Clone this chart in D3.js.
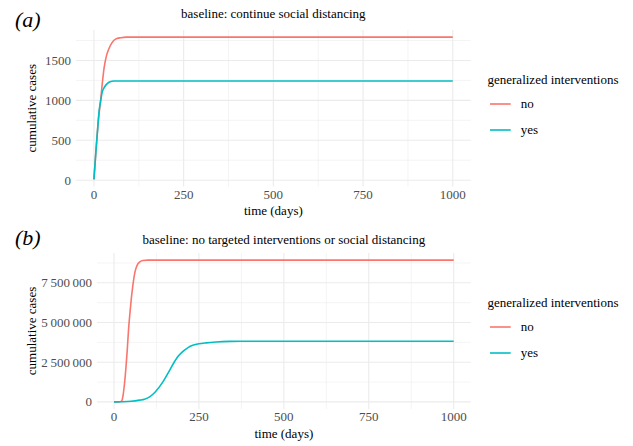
<!DOCTYPE html>
<html>
<head>
<meta charset="utf-8">
<script src="https://cdn.jsdelivr.net/npm/d3@7"></script>
<style>
  body { margin: 0; background: #fff; }
</style>
</head>
<body>
<svg id="chart" width="633" height="446" font-family="'Liberation Serif', 'Times New Roman', serif"></svg>
<script>
// panel (a): baseline continue social distancing
const daysA    = [0, 5, 11, 19, 23, 28, 35, 42, 50, 60, 75, 90, 1000];
const aNo      = [10, 330, 684, 1020, 1200, 1398, 1560, 1650, 1720, 1767, 1785, 1792, 1792];
const daysAYes = [0, 5, 10, 14, 19, 23, 30, 37, 45, 56, 70, 1000];
const aYes     = [10, 330, 620, 850, 1000, 1103, 1170, 1209, 1232, 1242, 1243, 1243];

// panel (b): baseline no targeted interventions or social distancing
const daysBNo  = [0, 15, 22, 27, 31, 35, 39, 43, 47, 51, 56, 62, 68, 75, 85, 100, 120, 1000];
const bNo      = [0, 0.005e6, 0.05e6, 0.45e6, 1.16e6, 2.1e6, 3.26e6, 4.6e6, 5.6e6, 6.5e6, 7.4e6, 8.2e6, 8.6e6, 8.8e6, 8.9e6, 8.93e6, 8.93e6, 8.93e6];
const daysBYes = [0, 25, 50, 75, 90, 105, 120, 144, 160, 175, 190, 203, 218, 232, 250, 272, 300, 340, 370, 450, 1000];
const bYes     = [0, 0.01e6, 0.04e6, 0.11e6, 0.17e6, 0.32e6, 0.59e6, 1.26e6, 1.85e6, 2.42e6, 2.9e6, 3.18e6, 3.42e6, 3.56e6, 3.66e6, 3.72e6, 3.77e6, 3.81e6, 3.82e6, 3.82e6, 3.82e6];

const groups  = ['no', 'yes'];
const colours = ['#F8766D', '#00BFC4'];
const xTicks  = [0, 250, 500, 750, 1000];
const xMinor  = [125, 375, 625, 875];
const yTicksA = [0, 500, 1000, 1500];
const yMinorA = [250, 750, 1250, 1750];
const yTicksB = [0, 2500000, 5000000, 7500000];
const yMinorB = [1250000, 3750000, 6250000, 8750000];

const svg = d3.select('#chart');

const panels = [
  {tag: '(a)', title: 'baseline: continue social distancing',
   left: 76, right: 470.7, top: 30, bottom: 186.5, tagY: 27, titleY: 18,
   series: [[daysA, aNo], [daysAYes, aYes]],
   yTicks: yTicksA, yMinor: yMinorA, fmt: d3.format('d'), legendY: 84},
  {tag: '(b)', title: 'baseline: no targeted interventions or social distancing',
   left: 97, right: 470.7, top: 253, bottom: 409, tagY: 245, titleY: 244,
   series: [[daysBNo, bNo], [daysBYes, bYes]],
   yTicks: yTicksB, yMinor: yMinorB, fmt: (d) => d3.format(',')(d).replace(/,/g, '\u2009'), legendY: 307}
];

panels.forEach((p) => {
  const allVals = p.series.flatMap((s) => s[1]);
  const yMin = d3.min(allVals), yMax = d3.max(allVals);
  const yExp = (yMax - yMin) * 0.05;

  const x = d3.scaleLinear().domain([-50, 1050]).range([p.left, p.right]);
  const y = d3.scaleLinear().domain([yMin - yExp, yMax + yExp]).range([p.bottom, p.top]);

  const g = svg.append('g');

  // grid
  g.selectAll('.xminor').data(xMinor).enter().append('line')
    .attr('x1', (d) => x(d)).attr('x2', (d) => x(d))
    .attr('y1', p.top).attr('y2', p.bottom)
    .attr('stroke', '#EBEBEB').attr('stroke-width', 0.55);
  g.selectAll('.yminor').data(p.yMinor).enter().append('line')
    .attr('y1', (d) => y(d)).attr('y2', (d) => y(d))
    .attr('x1', p.left).attr('x2', p.right)
    .attr('stroke', '#EBEBEB').attr('stroke-width', 0.55);
  g.selectAll('.xmajor').data(xTicks).enter().append('line')
    .attr('x1', (d) => x(d)).attr('x2', (d) => x(d))
    .attr('y1', p.top).attr('y2', p.bottom)
    .attr('stroke', '#EBEBEB').attr('stroke-width', 1.1);
  g.selectAll('.ymajor').data(p.yTicks).enter().append('line')
    .attr('y1', (d) => y(d)).attr('y2', (d) => y(d))
    .attr('x1', p.left).attr('x2', p.right)
    .attr('stroke', '#EBEBEB').attr('stroke-width', 1.1);

  // lines
  const line = d3.line()
    .x((d) => x(d[0]))
    .y((d) => y(d[1]))
    .curve(d3.curveMonotoneX);
  p.series.forEach((s, i) => {
    g.append('path')
      .datum(d3.zip(s[0], s[1]))
      .attr('d', line)
      .attr('fill', 'none')
      .attr('stroke', colours[i])
      .attr('stroke-width', 1.6);
  });

  // tick labels
  g.selectAll('.xlab').data(xTicks).enter().append('text')
    .attr('x', (d) => x(d)).attr('y', p.bottom + 12)
    .attr('text-anchor', 'middle').attr('font-size', 13)
    .attr('fill', '#4D4D4D').text((d) => d);
  g.selectAll('.ylab').data(p.yTicks).enter().append('text')
    .attr('x', p.left - 5).attr('y', (d) => y(d) + 4.5)
    .attr('text-anchor', 'end').attr('font-size', 13)
    .attr('fill', '#4D4D4D').text(p.fmt);

  // axis titles
  g.append('text')
    .attr('x', (p.left + p.right) / 2).attr('y', p.bottom + 28.5)
    .attr('text-anchor', 'middle').attr('font-size', 13)
    .text('time (days)');
  g.append('text')
    .attr('transform', `translate(36,${(p.top + p.bottom) / 2}) rotate(-90)`)
    .attr('text-anchor', 'middle').attr('font-size', 13)
    .text('cumulative cases');

  // title and tag
  g.append('text')
    .attr('x', (p.left + p.right) / 2).attr('y', p.titleY)
    .attr('text-anchor', 'middle').attr('font-size', 13)
    .text(p.title);
  g.append('text')
    .attr('x', 15).attr('y', p.tagY)
    .attr('font-size', 22).attr('font-style', 'italic')
    .text(p.tag);

  // legend
  g.append('text')
    .attr('x', 487.5).attr('y', p.legendY)
    .attr('font-size', 13).text('generalized interventions');
  groups.forEach((k, i) => {
    const ly = p.legendY + 20 + i * 26;
    g.append('line')
      .attr('x1', 490).attr('x2', 510.7)
      .attr('y1', ly).attr('y2', ly)
      .attr('stroke', colours[i]).attr('stroke-width', 1.6);
    g.append('text')
      .attr('x', 520.7).attr('y', ly + 4)
      .attr('font-size', 13).text(k);
  });
});
</script>
</body>
</html>
